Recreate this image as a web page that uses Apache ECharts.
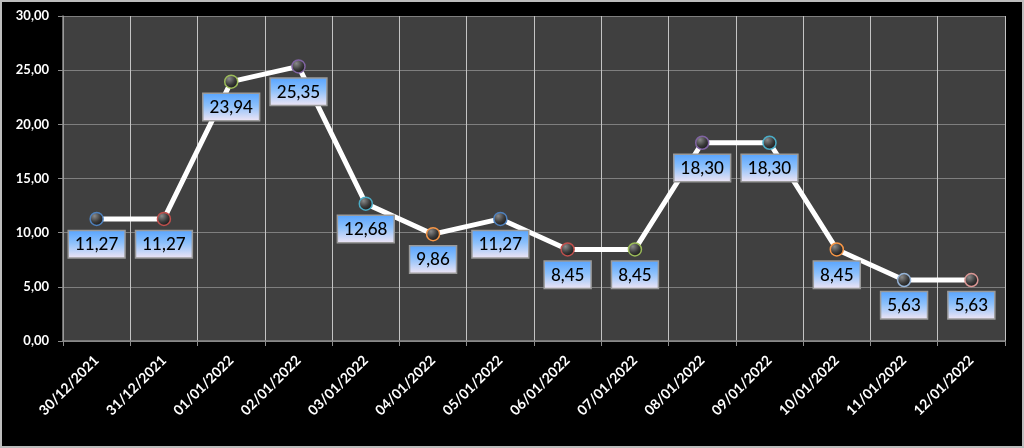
<!DOCTYPE html>
<html><head><meta charset="utf-8">
<script src="https://cdn.jsdelivr.net/npm/echarts@6/dist/echarts.min.js"></script>
<style>html,body{margin:0;padding:0;background:#000}#c{width:1024px;height:448px}</style>
</head><body><div id="c"></div>
<script>
const categories = ['30/12/2021','31/12/2021','01/01/2022','02/01/2022','03/01/2022','04/01/2022','05/01/2022','06/01/2022','07/01/2022','08/01/2022','09/01/2022','10/01/2022','11/01/2022','12/01/2022'];
const values = [11.27, 11.27, 23.94, 25.35, 12.68, 9.86, 11.27, 8.45, 8.45, 18.30, 18.30, 8.45, 5.63, 5.63];
const markerColors = ['#4f81bd','#c0504d','#9bbb59','#8064a2','#4bacc6','#f79646','#4f81bd','#c0504d','#9bbb59','#8064a2','#4bacc6','#f79646','#95b3d7','#d99694'];
const yTicks = [0, 5, 10, 15, 20, 25, 30];

const fmt = v => v.toFixed(2).replace('.', ',');
const chart = echarts.init(document.getElementById('c'));
const sphere = new echarts.graphic.RadialGradient(0.35, 0.3, 0.7, [
  {offset: 0, color: '#8a8a8a'}, {offset: 0.6, color: '#3a3a3a'}, {offset: 1, color: '#1a1a1a'}
]);
const labelBg = new echarts.graphic.LinearGradient(0, 0, 0, 1, [
  {offset: 0, color: '#55a3ff'}, {offset: 0.45, color: '#8cc0fb'}, {offset: 1, color: '#f2e6f4'}
]);
chart.setOption({
  backgroundColor: '#000',
  animation: false,
  graphic: [{type: 'rect', shape: {x: 1, y: 1, width: 1022, height: 446}, style: {fill: 'none', stroke: '#bdbdbd', lineWidth: 2}, silent: true}],
  grid: {left: 63, right: 19, top: 16, bottom: 107, show: true, backgroundColor: '#404040', borderWidth: 0},
  xAxis: {
    type: 'category', data: categories, boundaryGap: true,
    axisLine: {lineStyle: {color: '#8c8c8c', width: 1.5}},
    axisTick: {show: true, length: 5, lineStyle: {color: '#8c8c8c'}},
    splitLine: {show: true, lineStyle: {color: '#c4c4c4', width: 1}},
    axisLabel: {rotate: 45, color: '#fff', fontWeight: 'bold', fontSize: 14, fontFamily: 'Lato', margin: 17, interval: 0}
  },
  yAxis: {
    type: 'value', min: 0, max: 30, interval: 5,
    axisLine: {show: true, lineStyle: {color: '#8c8c8c', width: 1.5}},
    axisTick: {show: true, length: 5, lineStyle: {color: '#8c8c8c'}},
    splitLine: {show: true, lineStyle: {color: '#7f7f7f', width: 1}},
    axisLabel: {color: '#fff', fontWeight: 'bold', fontSize: 13, fontFamily: 'Lato', margin: 14, formatter: v => fmt(v)}
  },
  series: [{
    type: 'line', symbol: 'circle', symbolSize: 13,
    lineStyle: {color: '#fff', width: 5},
    data: values.map((v, i) => ({value: v, itemStyle: {color: sphere, borderColor: markerColors[i], borderWidth: 1.5}})),
    label: {
      show: true, position: 'bottom', distance: 5,
      formatter: p => fmt(p.value),
      color: '#000', fontSize: 17, fontFamily: 'Lato', fontWeight: 500,
      backgroundColor: labelBg, borderColor: '#9a9a9a', borderWidth: 1.5,
      padding: [5, 6, 4, 6]
    },
    z: 3
  }]
});
</script></body></html>
